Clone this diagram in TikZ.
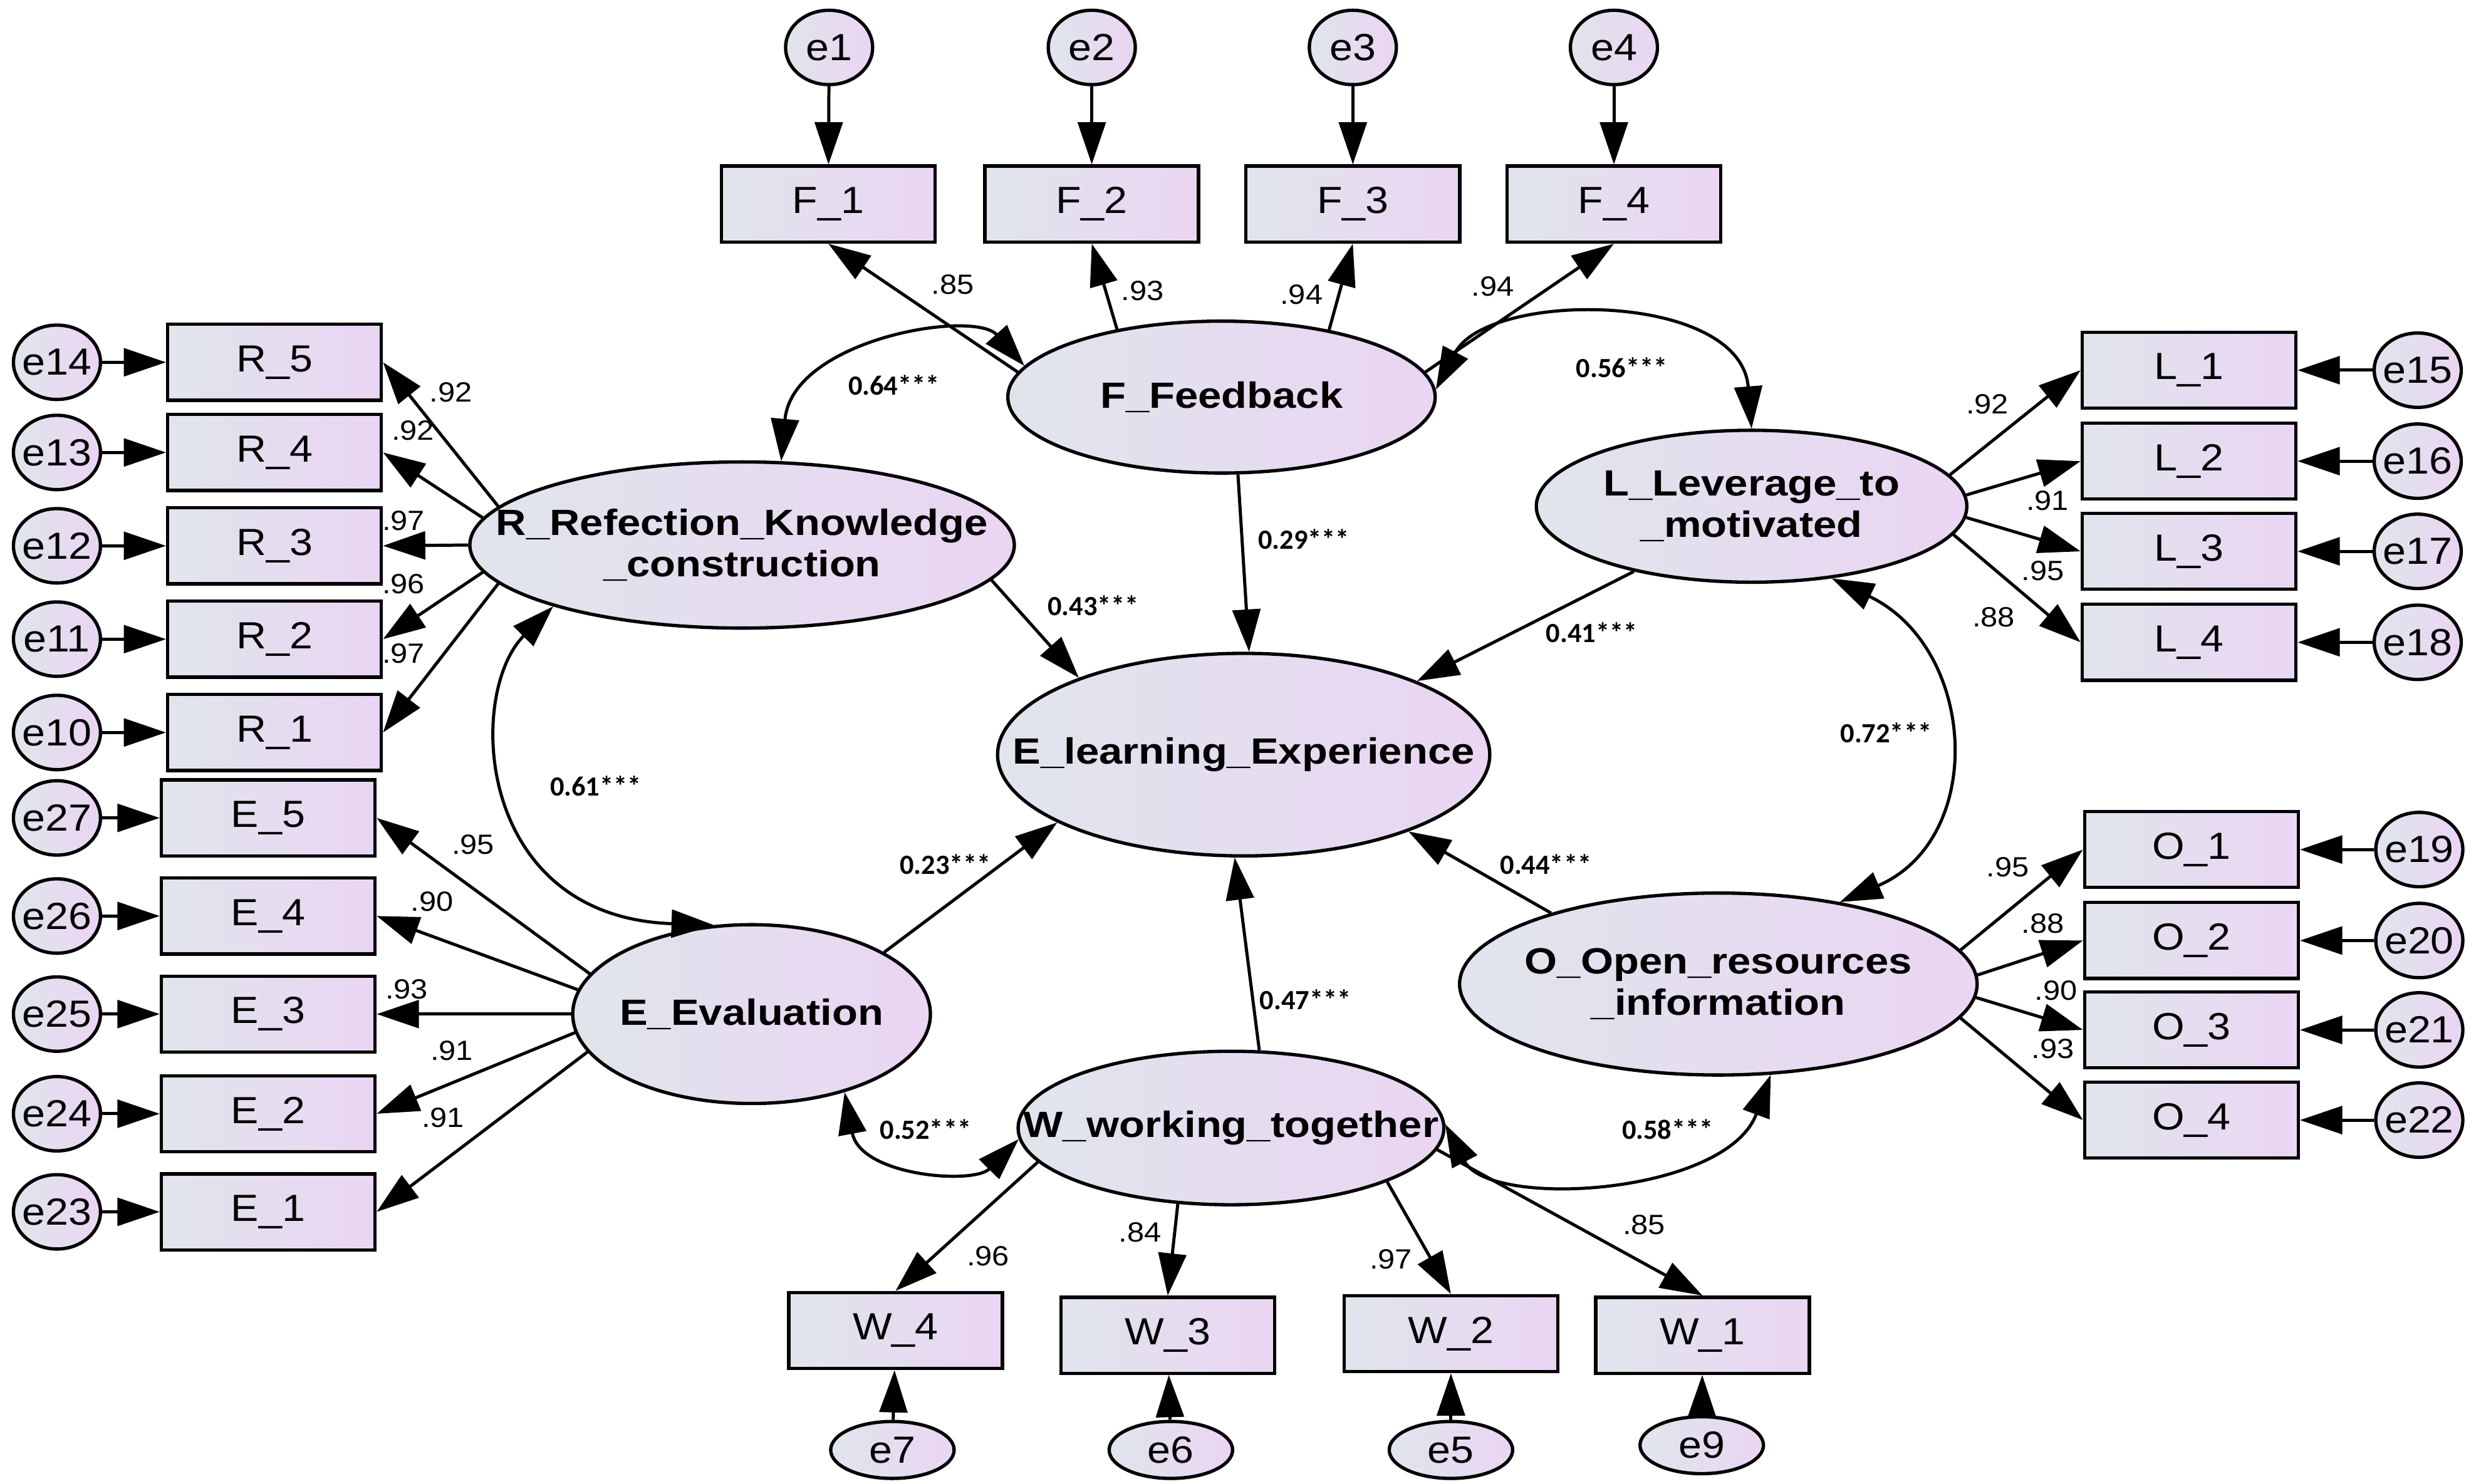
\documentclass[tikz,border=0pt]{standalone}
\usepackage{fontspec}
\setmainfont{Liberation Sans}
\newfontfamily\obsfont[FakeStretch=1.1]{Liberation Sans}
\newfontfamily\latfont[FakeStretch=1.15]{Liberation Sans}
\newfontfamily\coeffont{Carlito}
\usetikzlibrary{shapes.geometric,arrows.meta}
\definecolor{fillL}{RGB}{224,229,236}
\definecolor{fillR}{RGB}{234,213,243}
\begin{document}
\begin{tikzpicture}[x=0.025cm, y=0.025cm,
  obs/.style={draw, line width=1.5pt, rectangle, minimum width=3.375cm, minimum height=1.2cm, inner sep=0pt, left color=fillL, right color=fillR, font=\obsfont\fontsize{17}{18}\selectfont},
  lat/.style={draw, line width=1.5pt, ellipse, inner sep=0pt, left color=fillL, right color=fillR},
  lattxt/.style={font=\latfont\bfseries\fontsize{16.4}{18.5}\selectfont, align=center, inner sep=0pt},
  err/.style={draw, line width=1.5pt, ellipse, inner sep=0pt, minimum width=1.375cm, minimum height=1.175cm, left color=fillL, right color=fillR, font=\obsfont\fontsize{17}{18}\selectfont},
  errb/.style={err, minimum width=1.95cm, minimum height=0.9cm},
  ld/.style={font=\obsfont\fontsize{12.5}{14}\selectfont, inner sep=0pt},
  cf/.style={font=\coeffont\bfseries\fontsize{12.5}{14}\selectfont, inner sep=0pt},
  arr/.style={-{Triangle[length=19pt,width=12.5pt]}, line width=1.4pt},
  cov/.style={{Triangle[length=19pt,width=12.5pt]}-{Triangle[length=19pt,width=12.5pt]}, line width=1.4pt},
]
\useasboundingbox (0,0) rectangle (1568,-938);

% ---------- latent variables ----------
\node[lat, minimum width=6.75cm, minimum height=2.4cm] (F) at (772,-251) {};
\node[lattxt] (Ft) at (F) {F\_Feedback};
\node[lat, minimum width=6.8cm, minimum height=2.4cm] (L) at (1107,-320) {};
\node[lattxt] (Lt) at (L) {L\_Leverage\_to\\\_motivated};
\node[lat, minimum width=8.6cm, minimum height=2.625cm] (R) at (469,-344.5) {};
\node[lattxt] (Rt) at (R) {R\_Refection\_Knowledge\\\_construction};
\node[lat, minimum width=7.775cm, minimum height=3.2cm] (EL) at (786,-477) {};
\node[lattxt] (ELt) at (EL) {E\_learning\_Experience};
\node[lat, minimum width=5.65cm, minimum height=2.825cm] (E) at (475,-641) {};
\node[lattxt] (Et) at (E) {E\_Evaluation};
\node[lat, minimum width=8.175cm, minimum height=2.875cm] (O) at (1086,-622) {};
\node[lattxt] (Ot) at (O) {O\_Open\_resources\\\_information};
\node[lat, minimum width=6.725cm, minimum height=2.425cm] (W) at (778,-713) {};
\node[lattxt] (Wt) at (W) {W\_working\_together};

% ---------- F indicators ----------
\node[obs] (F1) at (523.5,-129) {F\_1};
\node[obs] (F2) at (690,-129) {F\_2};
\node[obs] (F3) at (855,-129) {F\_3};
\node[obs] (F4) at (1020,-129) {F\_4};
\node[err] (e1) at (524,-30) {\makebox[0pt]{e1}};
\node[err] (e2) at (690,-30) {\makebox[0pt]{e2}};
\node[err] (e3) at (855,-30) {\makebox[0pt]{e3}};
\node[err] (e4) at (1020,-30) {\makebox[0pt]{e4}};

% ---------- L indicators ----------
\node[obs] (L1) at (1383.5,-234) {L\_1};
\node[obs] (L2) at (1383.5,-291.5) {L\_2};
\node[obs] (L3) at (1383.5,-348.5) {L\_3};
\node[obs] (L4) at (1383.5,-406) {L\_4};
\node[err] (e15) at (1528,-234) {\makebox[0pt]{e15}};
\node[err] (e16) at (1528,-291.5) {\makebox[0pt]{e16}};
\node[err] (e17) at (1528,-348.5) {\makebox[0pt]{e17}};
\node[err] (e18) at (1528,-406) {\makebox[0pt]{e18}};

% ---------- O indicators ----------
\node[obs] (O1) at (1385,-537) {O\_1};
\node[obs] (O2) at (1385,-594.5) {O\_2};
\node[obs] (O3) at (1385,-651) {O\_3};
\node[obs] (O4) at (1385,-708) {O\_4};
\node[err] (e19) at (1529,-537) {\makebox[0pt]{e19}};
\node[err] (e20) at (1529,-594.5) {\makebox[0pt]{e20}};
\node[err] (e21) at (1529,-651) {\makebox[0pt]{e21}};
\node[err] (e22) at (1529,-708) {\makebox[0pt]{e22}};

% ---------- R indicators ----------
\node[obs] (R5) at (173.5,-229) {R\_5};
\node[obs] (R4) at (173.5,-286) {R\_4};
\node[obs] (R3) at (173.5,-345) {R\_3};
\node[obs] (R2) at (173.5,-404) {R\_2};
\node[obs] (R1) at (173.5,-463) {R\_1};
\node[err] (e14) at (36,-229) {\makebox[0pt]{e14}};
\node[err] (e13) at (36,-286) {\makebox[0pt]{e13}};
\node[err] (e12) at (36,-345) {\makebox[0pt]{e12}};
\node[err] (e11) at (36,-404) {\makebox[0pt]{e11}};
\node[err] (e10) at (36,-463) {\makebox[0pt]{e10}};

% ---------- E indicators ----------
\node[obs] (E5) at (169.5,-517) {E\_5};
\node[obs] (E4) at (169.5,-579) {E\_4};
\node[obs] (E3) at (169.5,-641) {E\_3};
\node[obs] (E2) at (169.5,-704) {E\_2};
\node[obs] (E1) at (169.5,-766) {E\_1};
\node[err] (e27) at (36,-517) {\makebox[0pt]{e27}};
\node[err] (e26) at (36,-579) {\makebox[0pt]{e26}};
\node[err] (e25) at (36,-641) {\makebox[0pt]{e25}};
\node[err] (e24) at (36,-704) {\makebox[0pt]{e24}};
\node[err] (e23) at (36,-766) {\makebox[0pt]{e23}};

% ---------- W indicators ----------
\node[obs] (W4) at (566,-841) {W\_4};
\node[obs] (W3) at (738,-844) {W\_3};
\node[obs] (W2) at (917,-843) {W\_2};
\node[obs] (W1) at (1076,-844) {W\_1};
\node[errb] (e7) at (564,-916.5) {\makebox[0pt]{e7}};
\node[errb] (e6) at (740,-916.5) {\makebox[0pt]{e6}};
\node[errb] (e5) at (917,-916.5) {\makebox[0pt]{e5}};
\node[errb] (e9) at (1075.5,-913.5) {\makebox[0pt]{e9}};

% ---------- error arrows ----------
\foreach \a/\b in {e1/F1,e2/F2,e3/F3,e4/F4,e15/L1,e16/L2,e17/L3,e18/L4,e19/O1,e20/O2,e21/O3,e22/O4,e14/R5,e13/R4,e12/R3,e11/R2,e10/R1,e27/E5,e26/E4,e25/E3,e24/E2,e23/E1,e7/W4,e6/W3,e5/W2,e9/W1}
  \draw[arr] (\a) -- (\b);

% ---------- loadings ----------
\draw[arr] (F.173.4) -- (F1.south);
\draw[arr] (F.147.7) -- (F2.south);
\draw[arr] (F.32.3) -- (F3.south);
\draw[arr] (F.7.4) -- (F4.south);
\draw[arr] (L.9.5) -- (L1.west);
\draw[arr] (L.3.8) -- (L2.west);
\draw[arr] (L.-3.4) -- (L3.west);
\draw[arr] (L.-8.4) -- (L4.west);
\draw[arr] (O.8.1) -- (O1.west);
\draw[arr] (O.2.8) -- (O2.west);
\draw[arr] (O.-3.2) -- (O3.west);
\draw[arr] (O.-8.3) -- (O4.west);
\draw[arr] (R.171) -- (R5.east);
\draw[arr] (R.174) -- (R4.east);
\draw[arr] (R.west) -- (R3.east);
\draw[arr] (R.186.5) -- (R2.east);
\draw[arr] (R.189.8) -- (R1.east);
\draw[arr] (E.166.8) -- (E5.east);
\draw[arr] (E.172.8) -- (E4.east);
\draw[arr] (E.west) -- (E3.east);
\draw[arr] (E.186.7) -- (E2.east);
\draw[arr] (E.193.5) -- (E1.east);
\draw[arr] (W.190.7) -- (W4.north);
\draw[arr] (W.235.4) -- (W3.north);
\draw[arr] (W.341) -- (W2.north);
\draw[arr] (W.354) -- (W1.north);

% ---------- structural paths ----------
\draw[arr] (R.-8.5) -- (EL.155.7);
\draw[arr] (F.-78) -- (EL.87);
\draw[arr] (L.209) -- (EL.23.8);
\draw[arr] (E.25.3) -- (EL.200);
\draw[arr] (W.70.7) -- (EL.265.6);
\draw[arr] (O.157.8) -- (EL.-25.9);

% ---------- covariances ----------
\draw[cov] (R.65) .. controls +(7,77) and +(-32,36) .. (F.171);
\draw[cov] (F.2) .. controls +(33,63) and +(-7,87) .. (L.90);
\draw[cov] (E.113) .. controls +(-151,5) and +(-55,-55) .. (R.198);
\draw[cov] (L.-42) .. controls +(92,-44) and +(93,40) .. (O.34.4);
\draw[cov] (E.-40) .. controls +(10,-53) and +(-28.5,-29) .. (W.183.4);
\draw[cov] (W.1) .. controls +(28,-54) and +(-28,-76) .. (O.-60.7);

% ---------- loading labels ----------
\node[ld] (lf1) at (602,-180) {.85};
\node[ld] (lf2) at (722,-184) {.93};
\node[ld] (lf3) at (822.5,-186) {.94};
\node[ld] (lf4) at (943.5,-181) {.94};
\node[ld] (ll1) at (1256,-255.5) {.92};
\node[ld] (ll2) at (1294,-316.6) {.91};
\node[ld] (ll3) at (1291,-361) {.95};
\node[ld] (ll4) at (1260,-390) {.88};
\node[ld] (lo1) at (1269,-548) {.95};
\node[ld] (lo2) at (1291,-583.6) {.88};
\node[ld] (lo3) at (1299.5,-626) {.90};
\node[ld] (lo4) at (1297.5,-663) {.93};
\node[ld] (lr5) at (285,-248) {.92};
\node[ld] (lr4) at (261,-272) {.92};
\node[ld] (lr3) at (255,-329) {.97};
\node[ld] (lr2) at (255,-369) {.96};
\node[ld] (lr1) at (255,-413) {.97};
\node[ld] (le5) at (299,-534) {.95};
\node[ld] (le4) at (273,-570) {.90};
\node[ld] (le3) at (257,-625.5) {.93};
\node[ld] (le2) at (285.5,-664) {.91};
\node[ld] (le1) at (280,-706.6) {.91};
\node[ld] (lw4) at (624.5,-794) {.96};
\node[ld] (lw3) at (720.5,-779) {.84};
\node[ld] (lw2) at (879,-796) {.97};
\node[ld] (lw1) at (1039,-774) {.85};

% ---------- coefficient labels ----------
\node[cf] (c1) at (565,-243.5) {0.64***};
\node[cf] (c2) at (1025,-232.5) {0.56***};
\node[cf] (c3) at (691,-383) {0.43***};
\node[cf] (c4) at (824,-341) {0.29***};
\node[cf] (c5) at (1006,-400) {0.41***};
\node[cf] (c6) at (376.5,-497) {0.61***};
\node[cf] (c7) at (1192,-463) {0.72***};
\node[cf] (c8) at (597.5,-546.5) {0.23***};
\node[cf] (c9) at (977,-546.5) {0.44***};
\node[cf] (c10) at (825,-632) {0.47***};
\node[cf] (c11) at (585,-714) {0.52***};
\node[cf] (c12) at (1054,-714) {0.58***};
\end{tikzpicture}
\end{document}
